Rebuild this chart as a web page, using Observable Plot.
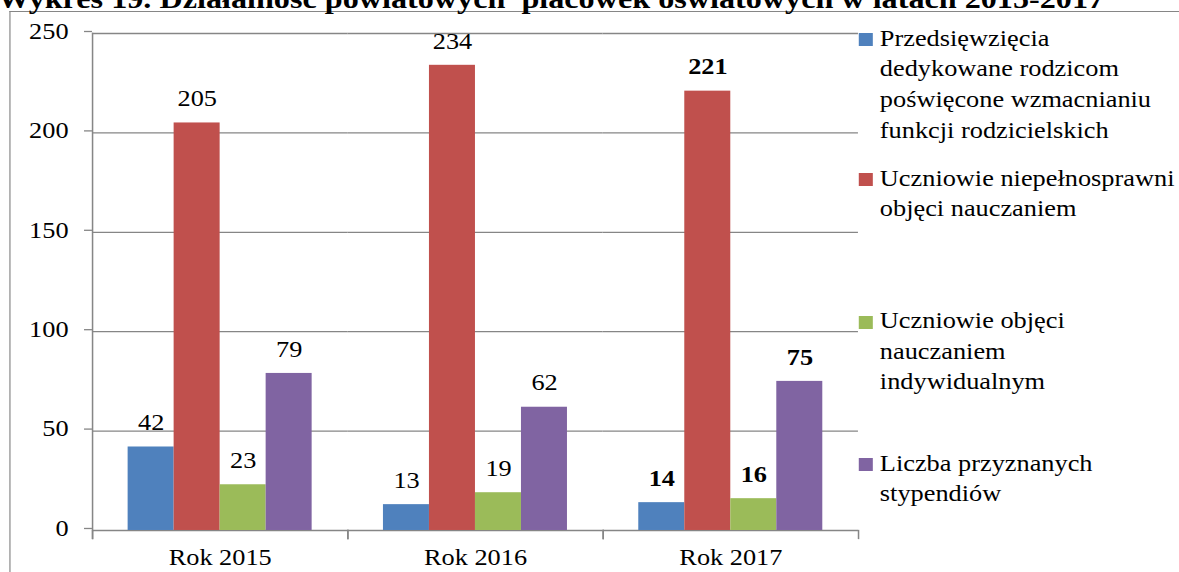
<!DOCTYPE html>
<html>
<head>
<meta charset="utf-8">
<script src="https://cdn.jsdelivr.net/npm/d3@7"></script>
<script src="https://cdn.jsdelivr.net/npm/@observablehq/plot@0.6"></script>
<style>
  html, body { margin: 0; padding: 0; background: #fff; overflow: hidden; }
  #stage { position: absolute; left: 0; top: 0; width: 1007.7px; height: 572px;
           transform: scaleX(1.17); transform-origin: 0 0; font-family: "Liberation Serif", "Times New Roman", serif; color: #000; }
  #border { position: absolute; left: 7.7px; top: 11px; width: 2000px; height: 2000px;
            border-top: 1.3px solid #868686; border-left: 1.3px solid #868686; }
  #title { position: absolute; left: -2px; top: -15px; font-size: 27.5px; line-height: 1; font-weight: bold; white-space: nowrap; }
  #chart { position: absolute; left: 0; top: 0; }
  .leg { position: absolute; left: 752px; font-size: 22.5px; line-height: 30.7px; white-space: pre; }
  .sw { position: absolute; left: 734px; width: 12px; height: 13px; }
</style>
</head>
<body>
<div id="stage">
  <div id="border"></div>
  <div id="title">Wykres 19. Działalność powiatowych&nbsp; placówek oświatowych w latach 2015-2017</div>
  <div id="chart"></div>
  <div id="legend"></div>
</div>
<script>
// ---- data ----
const years = ["Rok 2015", "Rok 2016", "Rok 2017"];
const seriesKeys = ["Przedsięwzięcia", "Niepełnosprawni", "Indywidualni", "Stypendia"];
const seriesLabels = [
  "Przedsięwzięcia\ndedykowane rodzicom\npoświęcone wzmacnianiu\nfunkcji rodzicielskich",
  "Uczniowie niepełnosprawni\nobjęci nauczaniem",
  "Uczniowie objęci\nnauczaniem\nindywidualnym",
  "Liczba przyznanych\nstypendiów"
];
const przedsiewziecia = [42, 13, 14];
const niepelnosprawni = [205, 234, 221];
const indywidualni = [23, 19, 16];
const stypendia = [79, 62, 75];
const yTicks = [0, 50, 100, 150, 200, 250];
const colors = ["#4F81BD", "#C0504D", "#9BBB59", "#8064A2"];

const seriesValues = [przedsiewziecia, niepelnosprawni, indywidualni, stypendia];
const data = years.flatMap((year, i) =>
  seriesKeys.map((series, j) => ({year, series, value: seriesValues[j][i]})));

const gray = "#868686";
const W = 1007.7, H = 572;
const mL = 78.6, mR = W - 733.3, mT = 33, mB = 42;
const innerH = H - mT - mB;
const fs = 22.5;

const chart = Plot.plot({
  width: W, height: H,
  marginLeft: mL, marginRight: mR, marginTop: mT, marginBottom: mB,
  style: {fontFamily: "'Liberation Serif', 'Times New Roman', serif", fontSize: fs + "px", color: "#000", background: "transparent", overflow: "visible"},
  fx: {domain: years, padding: 0, round: false, label: null},
  x: {domain: seriesKeys, paddingInner: 0, paddingOuter: 0.775, round: false, axis: null},
  y: {domain: [0, 250], label: null},
  color: {domain: seriesKeys, range: colors},
  marks: [
    Plot.ruleY(yTicks, {stroke: gray, strokeWidth: 1.3}),
    Plot.barY(data, {fx: "year", x: "series", y: "value", fill: "series"}),
    Plot.frame({anchor: "left", facetAnchor: "left", stroke: gray, strokeWidth: 1.3, insetBottom: -8}),
    Plot.frame({anchor: "left", stroke: gray, strokeWidth: 1.3, insetTop: innerH, insetBottom: -8}),
    Plot.frame({anchor: "right", stroke: gray, strokeWidth: 1.3, insetTop: innerH, insetBottom: -8}),
    Plot.axisY({ticks: yTicks, tickSize: 6.8, tickPadding: 13.7, stroke: gray, strokeWidth: 1.3,
                tickFormat: d => String(d), fontSize: fs, label: null, dy: -2, facetAnchor: "left"}),
    Plot.axisFx({anchor: "bottom", tickSize: 0, tickPadding: 19, fontSize: fs, label: null}),
    Plot.text(data, {fx: "year", x: "series", y: "value", text: d => String(d.value),
                     filter: d => d.year !== "Rok 2017", dy: -24, fontSize: fs, fill: "#000"}),
    Plot.text(data, {fx: "year", x: "series", y: "value", text: d => String(d.value),
                     filter: d => d.year === "Rok 2017", dy: -24, fontSize: fs, fontWeight: "bold", fill: "#000"})
  ]
});
document.getElementById("chart").appendChild(chart);

// ---- legend ----
const legendBaselines = [46.5, 186.7, 329, 471.7];
const legend = document.getElementById("legend");
seriesLabels.forEach((label, i) => {
  const sw = document.createElement("div");
  sw.className = "sw";
  sw.style.top = (legendBaselines[i] - 13.5) + "px";
  sw.style.background = colors[i];
  legend.appendChild(sw);
  const t = document.createElement("div");
  t.className = "leg";
  t.style.top = (legendBaselines[i] - 23) + "px";
  t.textContent = label;
  legend.appendChild(t);
});
</script>
</body>
</html>
